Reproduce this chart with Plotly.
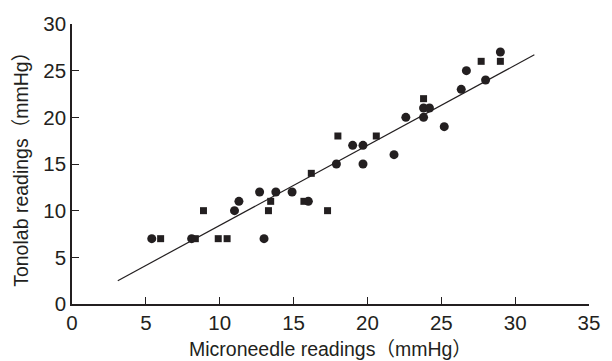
import plotly.graph_objects as go

ink = "#231f20"

circle_x = [5.4, 8.1, 11.0, 11.3, 12.7, 13.0, 13.8, 14.9, 16.0, 17.9, 19.7, 19.0, 19.7,
            21.8, 22.6, 23.8, 23.8, 24.2, 25.2, 26.35, 26.7, 28.0, 29.0]
circle_y = [7, 7, 10, 11, 12, 7, 12, 12, 11, 15, 15, 17, 17,
            16, 20, 20, 21, 21, 19, 23, 25, 24, 27]

square_x = [6.0, 8.35, 8.9, 9.9, 10.5, 13.3, 13.45, 15.7, 16.2, 17.3, 18.0, 20.6, 23.8, 27.7, 29.0]
square_y = [7, 7, 10, 7, 7, 10, 11, 11, 14, 10, 18, 18, 22, 26, 26]

fit_x = [3.1, 31.3]
fit_y = [2.5, 26.7]

x_ticks = [0, 5, 10, 15, 20, 25, 30, 35]
y_ticks = [0, 5, 10, 15, 20, 25, 30]

x_title = "Microneedle readings（mmHg）"
y_title = "Tonolab readings（mmHg）"

fig = go.Figure()
fig.add_trace(go.Scatter(x=fit_x, y=fit_y, mode="lines",
                         line=dict(color=ink, width=1.2), showlegend=False))
fig.add_trace(go.Scatter(x=circle_x, y=circle_y, mode="markers",
                         marker=dict(symbol="circle", size=9, color=ink), showlegend=False))
fig.add_trace(go.Scatter(x=square_x, y=square_y, mode="markers",
                         marker=dict(symbol="square", size=7, color=ink), showlegend=False))

tick_font = dict(family="Liberation Sans, Arial, sans-serif", size=20.5, color=ink)
title_font = dict(family="Liberation Sans, Noto Sans CJK JP, sans-serif", size=19.5, color=ink)

fig.update_layout(
    width=612, height=361,
    margin=dict(l=72, r=14, t=15, b=57),
    paper_bgcolor="white", plot_bgcolor="white",
    xaxis=dict(range=[0, 35], tickvals=x_ticks, ticks="inside", ticklen=7, tickwidth=1,
               tickcolor=ink, showline=True, linecolor=ink, linewidth=1.5,
               showgrid=False, zeroline=False, tickfont=tick_font),
    yaxis=dict(range=[0, 30], tickvals=y_ticks, ticks="inside", ticklen=7, tickwidth=1,
               tickcolor=ink, showline=True, linecolor=ink, linewidth=1.5,
               showgrid=False, zeroline=False, tickfont=tick_font),
    annotations=[
        dict(text=x_title, xref="paper", yref="paper", x=0.5, y=-0.162,
             xanchor="center", yanchor="middle", showarrow=False, font=title_font),
        dict(text=y_title, xref="paper", yref="paper", x=-0.099, y=0.5,
             xanchor="center", yanchor="middle", textangle=-90, showarrow=False,
             font=title_font),
    ],
)

fig.write_html("out.html")
